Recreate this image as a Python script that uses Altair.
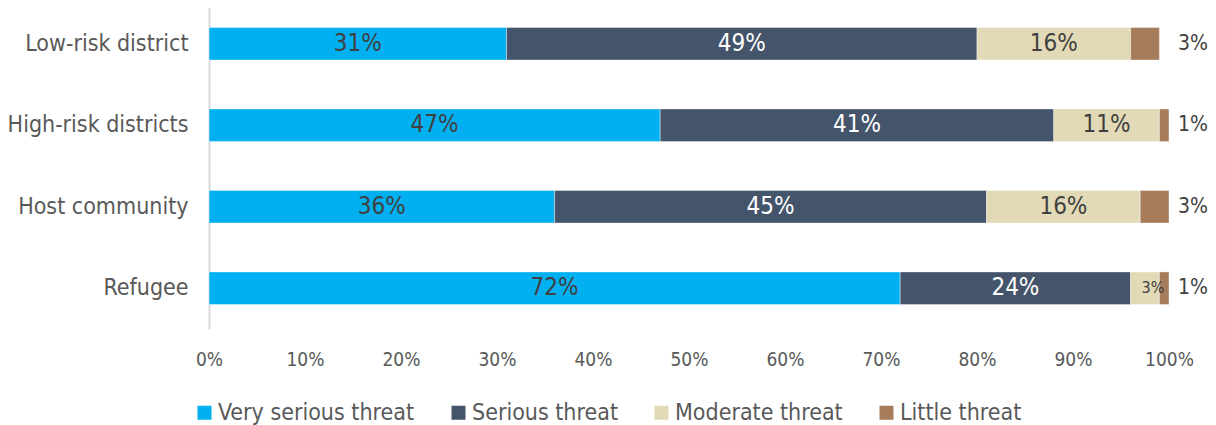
import altair as alt
import pandas as pd

categories = ["Low-risk district", "High-risk districts", "Host community", "Refugee"]
threats = ["Very serious threat", "Serious threat", "Moderate threat", "Little threat"]
very_serious = [0.31, 0.47, 0.36, 0.72]
serious = [0.49, 0.41, 0.45, 0.24]
moderate = [0.16, 0.11, 0.16, 0.03]
little = [0.03, 0.01, 0.03, 0.01]
colors = ["#00B0F0", "#44546A", "#E2DAB7", "#A67C5B"]
x_ticks = [0, 0.1, 0.2, 0.3, 0.4, 0.5, 0.6, 0.7, 0.8, 0.9, 1.0]

series = [very_serious, serious, moderate, little]
rows = []
for i, c in enumerate(categories):
    for j, t in enumerate(threats):
        rows.append({"category": c, "threat": t, "value": series[j][i], "order": j})
df = pd.DataFrame(rows)

FONT = "DejaVu Sans Condensed, DejaVu Sans"

base = alt.Chart(df).transform_stack(
    stack="value", groupby=["category"], sort=[alt.SortField("order")], as_=["v0", "v1"]
).transform_calculate(mid="(datum.v0 + datum.v1) / 2").encode(
    y=alt.Y(
        "category:N",
        sort=categories,
        scale=alt.Scale(range=[-5, 321], paddingInner=0.6, paddingOuter=0.3),
        axis=alt.Axis(
            title=None, labelFontSize=23, labelFont=FONT, labelColor="#595959",
            labelPadding=21, ticks=False, domainColor="#D9D9D9", domainWidth=2,
            labelLimit=400,
        ),
    )
)

xscale = alt.Scale(domain=[0, 1])
xaxis = alt.Axis(
    title=None, values=x_ticks, format=".0%", grid=False, domain=False, ticks=False,
    labelFontSize=19, labelFont=FONT, labelColor="#595959", labelPadding=21,
    labelFlush=False, labelOverlap=False,
)

bars = base.mark_bar(stroke="white", strokeWidth=0.4).encode(
    x=alt.X("v0:Q", scale=xscale, axis=xaxis),
    x2="v1:Q",
    color=alt.Color(
        "threat:N",
        scale=alt.Scale(domain=threats, range=colors),
        title=None,
        legend=alt.Legend(
            orient="none", legendX=-16, legendY=393, direction="horizontal",
            symbolType="square", symbolSize=196, symbolStrokeWidth=0,
            labelFontSize=23, labelFont=FONT, labelColor="#595959",
            columnPadding=32, labelOffset=2, padding=0, labelLimit=400,
        ),
    ),
)

inner = base.transform_filter(
    "datum.threat != 'Little threat' && datum.value >= 0.05"
).mark_text(fontSize=24, font=FONT).encode(
    x=alt.X("mid:Q", scale=xscale),
    text=alt.Text("value:Q", format=".0%"),
    color=alt.condition("datum.threat == 'Serious threat'", alt.value("white"), alt.value("#404040")),
)

small = base.transform_filter(
    "datum.threat == 'Moderate threat' && datum.value < 0.05"
).mark_text(fontSize=16, font=FONT, dx=8, color="#404040").encode(
    x=alt.X("mid:Q", scale=xscale),
    text=alt.Text("value:Q", format=".0%"),
)

outer = base.transform_filter(
    "datum.threat == 'Little threat'"
).mark_text(fontSize=21, font=FONT, align="left", dx=9, color="#404040").encode(
    x=alt.datum(1),
    text=alt.Text("value:Q", format=".0%"),
)

chart = alt.layer(bars, inner, small, outer).properties(
    width=960, height=321,
    autosize=alt.AutoSizeParams(type="none"),
    padding={"left": 201, "top": 0, "right": 39, "bottom": 96},
).configure_view(stroke=None)

chart.save("out.html", embed_options={"renderer": "svg", "actions": False})
